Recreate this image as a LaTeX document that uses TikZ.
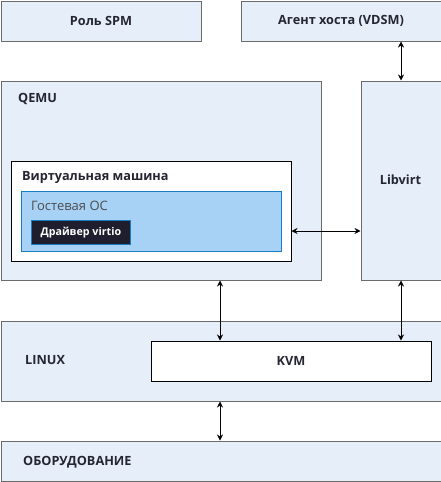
\documentclass[tikz,border=0pt]{standalone}
\usepackage{fontspec}
\setmainfont{Open Sans}
\usetikzlibrary{arrows.meta}
\definecolor{boxfill}{HTML}{E6EEFA}
\definecolor{boxline}{HTML}{6B6B6B}
\definecolor{osfill}{HTML}{A8D2F5}
\definecolor{osline}{HTML}{1A7DC4}
\definecolor{drvfill}{HTML}{1E1E2E}
\definecolor{txt}{HTML}{262633}
\begin{document}
\begin{tikzpicture}[x=1pt,y=-1pt,
  blk/.style={draw=boxline,fill=boxfill,line width=1pt},
  wbox/.style={draw=black,fill=white,line width=1pt},
  lbl/.style={text=txt,font=\fontsize{12.7}{14}\selectfont\bfseries,inner sep=0pt},
  arr/.style={{Stealth[length=6pt,width=6pt]}-{Stealth[length=6pt,width=6pt]},line width=0.8pt,black}]
\useasboundingbox (0,0) rectangle (441,482);
% top boxes
\node[blk,minimum width=200pt,minimum height=40pt,anchor=north west,inner sep=0pt] (spm) at (0.5,0.5) {};
\node[lbl] at (spm.center) {Роль SPM};
\node[blk,minimum width=200pt,minimum height=40pt,anchor=north west,inner sep=0pt] (vdsm) at (240.5,0.5) {};
\node[lbl] at (vdsm.center) {Агент хоста (VDSM)};
% QEMU
\node[blk,minimum width=320pt,minimum height=199pt,anchor=north west,inner sep=0pt] (qemu) at (0.5,80.5) {};
\node[lbl,anchor=base west] at (18,102) {QEMU};
% Libvirt
\node[blk,minimum width=80pt,minimum height=199pt,anchor=north west,inner sep=0pt] (libvirt) at (360.5,80.5) {};
\node[lbl] at (400.5,180) {Libvirt};
% VM
\node[wbox,minimum width=280pt,minimum height=100pt,anchor=north west,inner sep=0pt] (vm) at (10.5,160.5) {};
\node[lbl,anchor=base west] at (22,180) {Виртуальная машина};
% Guest OS
\node[draw=osline,fill=osfill,line width=1pt,minimum width=260pt,minimum height=60pt,anchor=north west,inner sep=0pt] (os) at (20.5,190.5) {};
\node[anchor=base west,inner sep=0pt,text=black!70,font=\fontsize{13}{14}\selectfont] at (31,210) {Гостевая ОС};
% Driver
\node[draw=osline,fill=drvfill,line width=0.8pt,minimum width=99pt,minimum height=24pt,anchor=north west,inner sep=0pt] (drv) at (31,220) {};
\node[text=white,font=\fontsize{10.7}{12}\selectfont\bfseries,inner sep=0pt] at (drv.center) {Драйвер virtio};
% LINUX
\node[blk,minimum width=440pt,minimum height=80pt,anchor=north west,inner sep=0pt] (linux) at (0.5,320.5) {};
\node[lbl,anchor=base west] at (25,364) {LINUX};
\node[wbox,minimum width=280pt,minimum height=40pt,anchor=north west,inner sep=0pt] (kvm) at (150.5,340.5) {};
\node[lbl] at (kvm.center) {KVM};
% Hardware
\node[blk,minimum width=440pt,minimum height=40pt,anchor=north west,inner sep=0pt] (hw) at (0.5,440.5) {};
\node[lbl,anchor=base west] at (23,465) {ОБОРУДОВАНИЕ};
% arrows
\draw[arr] (vdsm.south -| libvirt.center) -- (libvirt.north);
\draw[arr] (vm.east |- 0,231) -- (libvirt.west |- 0,231);
\draw[arr] (qemu.south -| 220,0) -- (kvm.north -| 220,0);
\draw[arr] (libvirt.south) -- (kvm.north -| libvirt.center);
\draw[arr] (linux.south -| 220,0) -- (hw.north -| 220,0);
\end{tikzpicture}
\end{document}
